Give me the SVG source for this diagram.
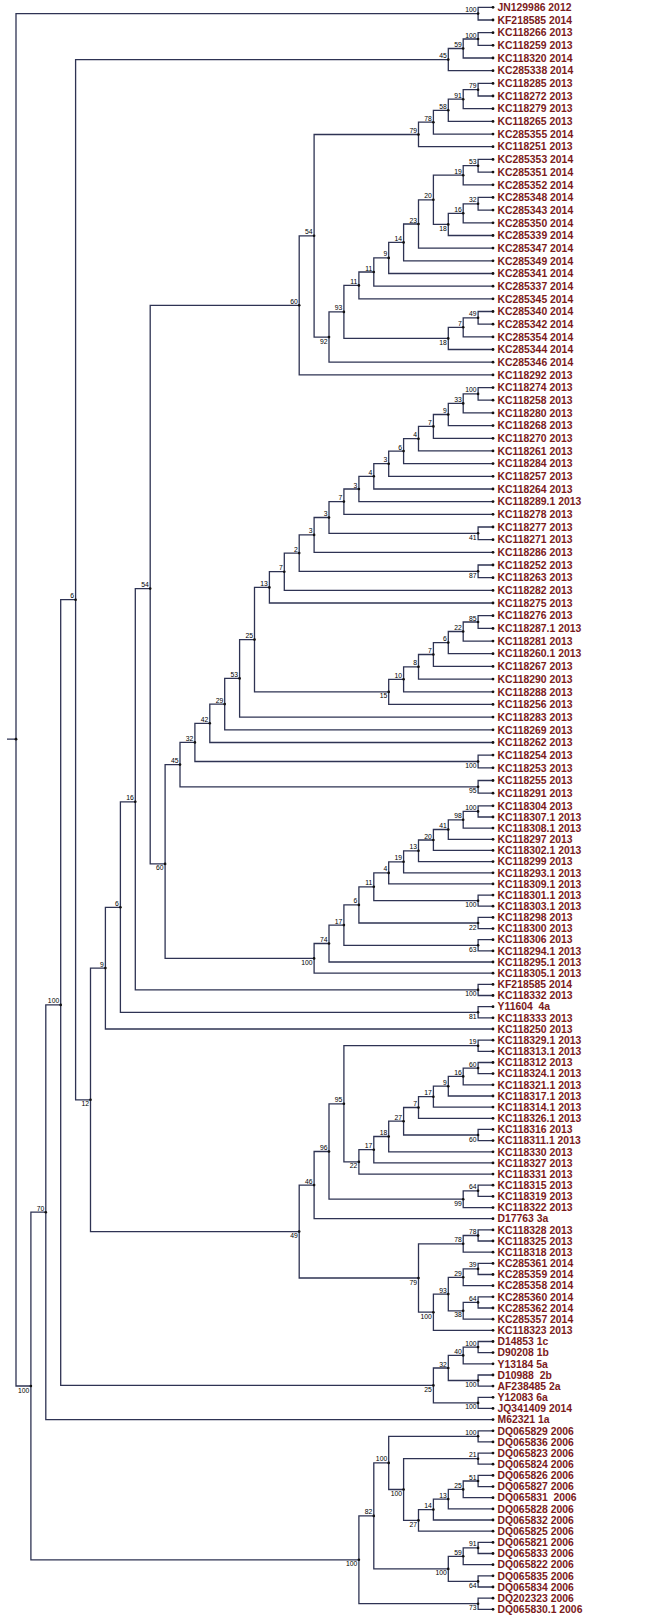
<svg xmlns="http://www.w3.org/2000/svg" width="646" height="1619" viewBox="0 0 646 1619">
<style>
.c path{fill:none;stroke:#2e3353;stroke-width:1.3}
circle{fill:#111}
.lf text{font-family:"Liberation Sans",Arial,sans-serif;font-weight:bold;font-size:10.4px;fill:#7b1a1a;white-space:pre}
.nd text{font-family:"Liberation Sans",Arial,sans-serif;font-size:6.8px;fill:#000;text-anchor:end}
</style>
<rect width="646" height="1619" fill="#fff"/>
<g id="connectors" class="c">
<path d="M478.1 13.6H16V1386H30.9M7 739.2H16"/>
<path d="M493 7.3H478.1V20H493"/>
<path d="M493 32.7H478.1V45.3H493"/>
<path d="M478.1 39H463.2V58H493"/>
<path d="M463.2 48.5H448.3V70.7H493"/>
<path d="M493 83.4H478.1V96H493"/>
<path d="M478.1 89.7H463.2V108.7H493"/>
<path d="M463.2 99.2H448.3V121.4H493"/>
<path d="M448.3 110.3H433.4V134.1H493"/>
<path d="M433.4 122.2H418.5V146.7H493"/>
<path d="M493 159.4H478.1V172.1H493"/>
<path d="M478.1 165.7H463.2V184.8H493"/>
<path d="M493 197.4H478.1V210.1H493"/>
<path d="M478.1 203.8H463.2V222.8H493"/>
<path d="M463.2 213.3H448.3V235.5H493"/>
<path d="M463.2 175.2H433.4V224.4H448.3"/>
<path d="M433.4 199.8H418.5V248.1H493"/>
<path d="M418.5 224H403.6V260.8H493"/>
<path d="M403.6 242.4H388.7V273.5H493"/>
<path d="M388.7 257.9H373.8V286.2H493"/>
<path d="M373.8 272H358.9V298.8H493"/>
<path d="M493 311.5H478.1V324.2H493"/>
<path d="M478.1 317.8H463.2V336.9H493"/>
<path d="M463.2 327.3H448.3V349.5H493"/>
<path d="M358.9 285.4H343.9V338.4H448.3"/>
<path d="M343.9 311.9H329V362.2H493"/>
<path d="M418.5 134.5H314.1V337.1H329"/>
<path d="M314.1 235.8H299.2V374.9H493"/>
<path d="M493 387.6H478.1V400.2H493"/>
<path d="M478.1 393.9H463.2V412.9H493"/>
<path d="M463.2 403.4H448.3V425.6H493"/>
<path d="M448.3 414.5H433.4V438.3H493"/>
<path d="M433.4 426.4H418.5V450.9H493"/>
<path d="M418.5 438.7H403.6V463.6H493"/>
<path d="M403.6 451.1H388.7V476.3H493"/>
<path d="M388.7 463.7H373.8V489H493"/>
<path d="M373.8 476.3H358.9V501.6H493"/>
<path d="M358.9 489H343.9V514.3H493"/>
<path d="M493 527H478.1V539.7H493"/>
<path d="M343.9 501.6H329V533.3H478.1"/>
<path d="M329 517.5H314.1V552.3H493"/>
<path d="M493 565H478.1V577.7H493"/>
<path d="M314.1 534.9H299.2V571.3H478.1"/>
<path d="M299.2 553.1H284.3V590.4H493"/>
<path d="M284.3 571.7H269.4V603H493"/>
<path d="M493 615.7H478.1V628.4H493"/>
<path d="M478.1 622H463.2V641.1H493"/>
<path d="M463.2 631.5H448.3V653.7H493"/>
<path d="M448.3 642.6H433.4V666.4H493"/>
<path d="M433.4 654.5H418.5V679.1H493"/>
<path d="M418.5 666.8H403.6V691.8H493"/>
<path d="M403.6 679.3H388.7V704.4H493"/>
<path d="M269.4 587.4H254.5V691.9H388.7"/>
<path d="M254.5 639.6H239.6V717.1H493"/>
<path d="M239.6 678.4H224.7V729.8H493"/>
<path d="M224.7 704.1H209.8V742.5H493"/>
<path d="M493 755.1H478.1V767.8H493"/>
<path d="M209.8 723.3H194.9V761.5H478.1"/>
<path d="M493 780.5H478.1V793.2H493"/>
<path d="M194.9 742.4H180V786.8H478.1"/>
<path d="M493 805.8H478.1V817H493"/>
<path d="M478.1 811.4H463.2V828.1H493"/>
<path d="M463.2 819.8H448.3V839.3H493"/>
<path d="M448.3 829.5H433.4V850.4H493"/>
<path d="M433.4 840H418.5V861.6H493"/>
<path d="M418.5 850.8H403.6V872.8H493"/>
<path d="M403.6 861.8H388.7V883.9H493"/>
<path d="M493 895.1H478.1V906.2H493"/>
<path d="M388.7 872.9H373.8V900.7H478.1"/>
<path d="M493 917.4H478.1V928.6H493"/>
<path d="M373.8 886.8H358.9V923H478.1"/>
<path d="M493 939.7H478.1V950.9H493"/>
<path d="M358.9 904.9H343.9V945.3H478.1"/>
<path d="M343.9 925.1H329V962H493"/>
<path d="M329 943.5H314.1V973.2H493"/>
<path d="M180 764.6H165.1V958.4H314.1"/>
<path d="M299.2 305.3H150.2V863.9H165.1"/>
<path d="M493 984.4H478.1V995.5H493"/>
<path d="M150.2 588.6H135.3V989.9H478.1"/>
<path d="M493 1006.7H478.1V1017.8H493"/>
<path d="M135.3 801.8H120.4V1012.3H478.1"/>
<path d="M120.4 907.3H105.4V1029H493"/>
<path d="M493 1040.2H478.1V1051.3H493"/>
<path d="M493 1062.5H478.1V1073.6H493"/>
<path d="M478.1 1068.1H463.2V1084.8H493"/>
<path d="M463.2 1076.4H448.3V1096H493"/>
<path d="M448.3 1086.2H433.4V1107.1H493"/>
<path d="M433.4 1096.7H418.5V1118.3H493"/>
<path d="M493 1129.4H478.1V1140.6H493"/>
<path d="M418.5 1107.5H403.6V1135H478.1"/>
<path d="M403.6 1121.2H388.7V1151.8H493"/>
<path d="M388.7 1136.5H373.8V1162.9H493"/>
<path d="M373.8 1149.7H358.9V1174.1H493"/>
<path d="M478.1 1045.7H343.9V1161.9H358.9"/>
<path d="M493 1185.2H478.1V1196.4H493"/>
<path d="M478.1 1190.8H463.2V1207.6H493"/>
<path d="M343.9 1103.8H329V1199.2H463.2"/>
<path d="M329 1151.5H314.1V1218.7H493"/>
<path d="M493 1229.9H478.1V1241H493"/>
<path d="M478.1 1235.5H463.2V1252.2H493"/>
<path d="M493 1263.4H478.1V1274.5H493"/>
<path d="M478.1 1268.9H463.2V1285.7H493"/>
<path d="M493 1296.8H478.1V1308H493"/>
<path d="M478.1 1302.4H463.2V1319.2H493"/>
<path d="M463.2 1277.3H448.3V1310.8H463.2"/>
<path d="M448.3 1294.1H433.4V1330.3H493"/>
<path d="M463.2 1243.8H418.5V1312.2H433.4"/>
<path d="M314.1 1185.1H299.2V1278H418.5"/>
<path d="M105.4 968.1H90.5V1231.6H299.2"/>
<path d="M448.3 59.6H75.6V1099.8H90.5"/>
<path d="M493 1341.5H478.1V1352.6H493"/>
<path d="M478.1 1347.1H463.2V1363.8H493"/>
<path d="M493 1375H478.1V1386.1H493"/>
<path d="M463.2 1355.4H448.3V1380.5H478.1"/>
<path d="M493 1397.3H478.1V1408.4H493"/>
<path d="M448.3 1368H433.4V1402.9H478.1"/>
<path d="M75.6 599.7H60.7V1385.4H433.4"/>
<path d="M60.7 1004.9H45.8V1419.6H493"/>
<path d="M493 1430.8H478.1V1441.9H493"/>
<path d="M493 1453.1H478.1V1464.2H493"/>
<path d="M493 1475.4H478.1V1486.6H493"/>
<path d="M478.1 1481H463.2V1497.7H493"/>
<path d="M463.2 1489.4H448.3V1508.9H493"/>
<path d="M448.3 1499.1H433.4V1520H493"/>
<path d="M433.4 1509.6H418.5V1531.2H493"/>
<path d="M478.1 1458.7H403.6V1520.4H418.5"/>
<path d="M478.1 1436.3H388.7V1489.5H403.6"/>
<path d="M493 1542.4H478.1V1553.5H493"/>
<path d="M478.1 1547.9H463.2V1564.7H493"/>
<path d="M493 1575.8H478.1V1587H493"/>
<path d="M463.2 1556.3H448.3V1581.4H478.1"/>
<path d="M388.7 1462.9H373.8V1568.9H448.3"/>
<path d="M493 1598.2H478.1V1609.3H493"/>
<path d="M373.8 1515.9H358.9V1603.7H478.1"/>
<path d="M45.8 1212.2H30.9V1559.8H358.9"/>
</g>
<g id="internal-nodes" class="nd">
<g id="n-root" transform="translate(16,739.2)"><circle r="1.4"/></g>
<g id="n-A" transform="translate(478.1,13.6)"><circle r="1.3"/><text x="-1.5" y="-1.5">100</text></g>
<g id="n-P100a" transform="translate(478.1,39)"><circle r="1.3"/><text x="-1.5" y="-1.5">100</text></g>
<g id="n-P59" transform="translate(463.2,48.5)"><circle r="1.3"/><text x="-1.5" y="-1.5">59</text></g>
<g id="n-P45" transform="translate(448.3,59.6)"><circle r="1.3"/><text x="-1.5" y="-1.5">45</text></g>
<g id="n-Q79a" transform="translate(478.1,89.7)"><circle r="1.3"/><text x="-1.5" y="-1.5">79</text></g>
<g id="n-Q91" transform="translate(463.2,99.2)"><circle r="1.3"/><text x="-1.5" y="-1.5">91</text></g>
<g id="n-Q58" transform="translate(448.3,110.3)"><circle r="1.3"/><text x="-1.5" y="-1.5">58</text></g>
<g id="n-Q78" transform="translate(433.4,122.2)"><circle r="1.3"/><text x="-1.5" y="-1.5">78</text></g>
<g id="n-Q79b" transform="translate(418.5,134.5)"><circle r="1.3"/><text x="-1.5" y="-1.5">79</text></g>
<g id="n-R53" transform="translate(478.1,165.7)"><circle r="1.3"/><text x="-1.5" y="-1.5">53</text></g>
<g id="n-R19" transform="translate(463.2,175.2)"><circle r="1.3"/><text x="-1.5" y="-1.5">19</text></g>
<g id="n-R32" transform="translate(478.1,203.8)"><circle r="1.3"/><text x="-1.5" y="-1.5">32</text></g>
<g id="n-R16" transform="translate(463.2,213.3)"><circle r="1.3"/><text x="-1.5" y="-1.5">16</text></g>
<g id="n-R18" transform="translate(448.3,224.4)"><circle r="1.3"/><text x="-1.5" y="6.5">18</text></g>
<g id="n-R20" transform="translate(433.4,199.8)"><circle r="1.3"/><text x="-1.5" y="-1.5">20</text></g>
<g id="n-R23" transform="translate(418.5,224)"><circle r="1.3"/><text x="-1.5" y="-1.5">23</text></g>
<g id="n-R14" transform="translate(403.6,242.4)"><circle r="1.3"/><text x="-1.5" y="-1.5">14</text></g>
<g id="n-R9" transform="translate(388.7,257.9)"><circle r="1.3"/><text x="-1.5" y="-1.5">9</text></g>
<g id="n-R11u" transform="translate(373.8,272)"><circle r="1.3"/><text x="-1.5" y="-1.5">11</text></g>
<g id="n-R11" transform="translate(358.9,285.4)"><circle r="1.3"/><text x="-1.5" y="-1.5">11</text></g>
<g id="n-R49" transform="translate(478.1,317.8)"><circle r="1.3"/><text x="-1.5" y="-1.5">49</text></g>
<g id="n-R7" transform="translate(463.2,327.3)"><circle r="1.3"/><text x="-1.5" y="-1.5">7</text></g>
<g id="n-R18b" transform="translate(448.3,338.4)"><circle r="1.3"/><text x="-1.5" y="6.5">18</text></g>
<g id="n-R93" transform="translate(343.9,311.9)"><circle r="1.3"/><text x="-1.5" y="-1.5">93</text></g>
<g id="n-R92" transform="translate(329,337.1)"><circle r="1.3"/><text x="-1.5" y="6.5">92</text></g>
<g id="n-S54" transform="translate(314.1,235.8)"><circle r="1.3"/><text x="-1.5" y="-1.5">54</text></g>
<g id="n-S60" transform="translate(299.2,305.3)"><circle r="1.3"/><text x="-1.5" y="-1.5">60</text></g>
<g id="n-T100" transform="translate(478.1,393.9)"><circle r="1.3"/><text x="-1.5" y="-1.5">100</text></g>
<g id="n-T33" transform="translate(463.2,403.4)"><circle r="1.3"/><text x="-1.5" y="-1.5">33</text></g>
<g id="n-T9" transform="translate(448.3,414.5)"><circle r="1.3"/><text x="-1.5" y="-1.5">9</text></g>
<g id="n-T7" transform="translate(433.4,426.4)"><circle r="1.3"/><text x="-1.5" y="-1.5">7</text></g>
<g id="n-T4" transform="translate(418.5,438.7)"><circle r="1.3"/><text x="-1.5" y="-1.5">4</text></g>
<g id="n-T6" transform="translate(403.6,451.1)"><circle r="1.3"/><text x="-1.5" y="-1.5">6</text></g>
<g id="n-T3a" transform="translate(388.7,463.7)"><circle r="1.3"/><text x="-1.5" y="-1.5">3</text></g>
<g id="n-T4b" transform="translate(373.8,476.3)"><circle r="1.3"/><text x="-1.5" y="-1.5">4</text></g>
<g id="n-T3b" transform="translate(358.9,489)"><circle r="1.3"/><text x="-1.5" y="-1.5">3</text></g>
<g id="n-T7b" transform="translate(343.9,501.6)"><circle r="1.3"/><text x="-1.5" y="-1.5">7</text></g>
<g id="n-T41" transform="translate(478.1,533.3)"><circle r="1.3"/><text x="-1.5" y="6.5">41</text></g>
<g id="n-T3c" transform="translate(329,517.5)"><circle r="1.3"/><text x="-1.5" y="-1.5">3</text></g>
<g id="n-T3d" transform="translate(314.1,534.9)"><circle r="1.3"/><text x="-1.5" y="-1.5">3</text></g>
<g id="n-T87" transform="translate(478.1,571.3)"><circle r="1.3"/><text x="-1.5" y="6.5">87</text></g>
<g id="n-T2" transform="translate(299.2,553.1)"><circle r="1.3"/><text x="-1.5" y="-1.5">2</text></g>
<g id="n-T7e" transform="translate(284.3,571.7)"><circle r="1.3"/><text x="-1.5" y="-1.5">7</text></g>
<g id="n-T13" transform="translate(269.4,587.4)"><circle r="1.3"/><text x="-1.5" y="-1.5">13</text></g>
<g id="n-U85" transform="translate(478.1,622)"><circle r="1.3"/><text x="-1.5" y="-1.5">85</text></g>
<g id="n-U22" transform="translate(463.2,631.5)"><circle r="1.3"/><text x="-1.5" y="-1.5">22</text></g>
<g id="n-U6" transform="translate(448.3,642.6)"><circle r="1.3"/><text x="-1.5" y="-1.5">6</text></g>
<g id="n-U7" transform="translate(433.4,654.5)"><circle r="1.3"/><text x="-1.5" y="-1.5">7</text></g>
<g id="n-U8" transform="translate(418.5,666.8)"><circle r="1.3"/><text x="-1.5" y="-1.5">8</text></g>
<g id="n-U10" transform="translate(403.6,679.3)"><circle r="1.3"/><text x="-1.5" y="-1.5">10</text></g>
<g id="n-U15" transform="translate(388.7,691.9)"><circle r="1.3"/><text x="-1.5" y="6.5">15</text></g>
<g id="n-T25" transform="translate(254.5,639.6)"><circle r="1.3"/><text x="-1.5" y="-1.5">25</text></g>
<g id="n-T53" transform="translate(239.6,678.4)"><circle r="1.3"/><text x="-1.5" y="-1.5">53</text></g>
<g id="n-T29" transform="translate(224.7,704.1)"><circle r="1.3"/><text x="-1.5" y="-1.5">29</text></g>
<g id="n-T42" transform="translate(209.8,723.3)"><circle r="1.3"/><text x="-1.5" y="-1.5">42</text></g>
<g id="n-V100" transform="translate(478.1,761.5)"><circle r="1.3"/><text x="-1.5" y="6.5">100</text></g>
<g id="n-T32" transform="translate(194.9,742.4)"><circle r="1.3"/><text x="-1.5" y="-1.5">32</text></g>
<g id="n-V95" transform="translate(478.1,786.8)"><circle r="1.3"/><text x="-1.5" y="6.5">95</text></g>
<g id="n-T45" transform="translate(180,764.6)"><circle r="1.3"/><text x="-1.5" y="-1.5">45</text></g>
<g id="n-W100" transform="translate(478.1,811.4)"><circle r="1.3"/><text x="-1.5" y="-1.5">100</text></g>
<g id="n-W98" transform="translate(463.2,819.8)"><circle r="1.3"/><text x="-1.5" y="-1.5">98</text></g>
<g id="n-W41" transform="translate(448.3,829.5)"><circle r="1.3"/><text x="-1.5" y="-1.5">41</text></g>
<g id="n-W20" transform="translate(433.4,840)"><circle r="1.3"/><text x="-1.5" y="-1.5">20</text></g>
<g id="n-W13" transform="translate(418.5,850.8)"><circle r="1.3"/><text x="-1.5" y="-1.5">13</text></g>
<g id="n-W19" transform="translate(403.6,861.8)"><circle r="1.3"/><text x="-1.5" y="-1.5">19</text></g>
<g id="n-W4" transform="translate(388.7,872.9)"><circle r="1.3"/><text x="-1.5" y="-1.5">4</text></g>
<g id="n-W100e" transform="translate(478.1,900.7)"><circle r="1.3"/><text x="-1.5" y="6.5">100</text></g>
<g id="n-W11" transform="translate(373.8,886.8)"><circle r="1.3"/><text x="-1.5" y="-1.5">11</text></g>
<g id="n-W22" transform="translate(478.1,923)"><circle r="1.3"/><text x="-1.5" y="6.5">22</text></g>
<g id="n-W6" transform="translate(358.9,904.9)"><circle r="1.3"/><text x="-1.5" y="-1.5">6</text></g>
<g id="n-W63" transform="translate(478.1,945.3)"><circle r="1.3"/><text x="-1.5" y="6.5">63</text></g>
<g id="n-W17" transform="translate(343.9,925.1)"><circle r="1.3"/><text x="-1.5" y="-1.5">17</text></g>
<g id="n-W74" transform="translate(329,943.5)"><circle r="1.3"/><text x="-1.5" y="-1.5">74</text></g>
<g id="n-W100f" transform="translate(314.1,958.4)"><circle r="1.3"/><text x="-1.5" y="6.5">100</text></g>
<g id="n-X60" transform="translate(165.1,863.9)"><circle r="1.3"/><text x="-1.5" y="6.5">60</text></g>
<g id="n-X54" transform="translate(150.2,588.6)"><circle r="1.3"/><text x="-1.5" y="-1.5">54</text></g>
<g id="n-X100b" transform="translate(478.1,989.9)"><circle r="1.3"/><text x="-1.5" y="6.5">100</text></g>
<g id="n-X16" transform="translate(135.3,801.8)"><circle r="1.3"/><text x="-1.5" y="-1.5">16</text></g>
<g id="n-X81" transform="translate(478.1,1012.3)"><circle r="1.3"/><text x="-1.5" y="6.5">81</text></g>
<g id="n-X6" transform="translate(120.4,907.3)"><circle r="1.3"/><text x="-1.5" y="-1.5">6</text></g>
<g id="n-X9" transform="translate(105.4,968.1)"><circle r="1.3"/><text x="-1.5" y="-1.5">9</text></g>
<g id="n-Y19" transform="translate(478.1,1045.7)"><circle r="1.3"/><text x="-1.5" y="-1.5">19</text></g>
<g id="n-Y60" transform="translate(478.1,1068.1)"><circle r="1.3"/><text x="-1.5" y="-1.5">60</text></g>
<g id="n-Y16" transform="translate(463.2,1076.4)"><circle r="1.3"/><text x="-1.5" y="-1.5">16</text></g>
<g id="n-Y9" transform="translate(448.3,1086.2)"><circle r="1.3"/><text x="-1.5" y="-1.5">9</text></g>
<g id="n-Y17" transform="translate(433.4,1096.7)"><circle r="1.3"/><text x="-1.5" y="-1.5">17</text></g>
<g id="n-Y7" transform="translate(418.5,1107.5)"><circle r="1.3"/><text x="-1.5" y="-1.5">7</text></g>
<g id="n-Y60c" transform="translate(478.1,1135)"><circle r="1.3"/><text x="-1.5" y="6.5">60</text></g>
<g id="n-Y27" transform="translate(403.6,1121.2)"><circle r="1.3"/><text x="-1.5" y="-1.5">27</text></g>
<g id="n-Y18" transform="translate(388.7,1136.5)"><circle r="1.3"/><text x="-1.5" y="-1.5">18</text></g>
<g id="n-Y17d" transform="translate(373.8,1149.7)"><circle r="1.3"/><text x="-1.5" y="-1.5">17</text></g>
<g id="n-Y22" transform="translate(358.9,1161.9)"><circle r="1.3"/><text x="-1.5" y="6.5">22</text></g>
<g id="n-Y95" transform="translate(343.9,1103.8)"><circle r="1.3"/><text x="-1.5" y="-1.5">95</text></g>
<g id="n-Y64" transform="translate(478.1,1190.8)"><circle r="1.3"/><text x="-1.5" y="-1.5">64</text></g>
<g id="n-Y99" transform="translate(463.2,1199.2)"><circle r="1.3"/><text x="-1.5" y="6.5">99</text></g>
<g id="n-Y96" transform="translate(329,1151.5)"><circle r="1.3"/><text x="-1.5" y="-1.5">96</text></g>
<g id="n-Y46" transform="translate(314.1,1185.1)"><circle r="1.3"/><text x="-1.5" y="-1.5">46</text></g>
<g id="n-Z78a" transform="translate(478.1,1235.5)"><circle r="1.3"/><text x="-1.5" y="-1.5">78</text></g>
<g id="n-Z78b" transform="translate(463.2,1243.8)"><circle r="1.3"/><text x="-1.5" y="-1.5">78</text></g>
<g id="n-Z39" transform="translate(478.1,1268.9)"><circle r="1.3"/><text x="-1.5" y="-1.5">39</text></g>
<g id="n-Z29" transform="translate(463.2,1277.3)"><circle r="1.3"/><text x="-1.5" y="-1.5">29</text></g>
<g id="n-Z64" transform="translate(478.1,1302.4)"><circle r="1.3"/><text x="-1.5" y="-1.5">64</text></g>
<g id="n-Z38" transform="translate(463.2,1310.8)"><circle r="1.3"/><text x="-1.5" y="6.5">38</text></g>
<g id="n-Z93" transform="translate(448.3,1294.1)"><circle r="1.3"/><text x="-1.5" y="-1.5">93</text></g>
<g id="n-Z100" transform="translate(433.4,1312.2)"><circle r="1.3"/><text x="-1.5" y="6.5">100</text></g>
<g id="n-Z79" transform="translate(418.5,1278)"><circle r="1.3"/><text x="-1.5" y="6.5">79</text></g>
<g id="n-Y49" transform="translate(299.2,1231.6)"><circle r="1.3"/><text x="-1.5" y="6.5">49</text></g>
<g id="n-X12" transform="translate(90.5,1099.8)"><circle r="1.3"/><text x="-1.5" y="6.5">12</text></g>
<g id="n-P6" transform="translate(75.6,599.7)"><circle r="1.3"/><text x="-1.5" y="-1.5">6</text></g>
<g id="n-G100a" transform="translate(478.1,1347.1)"><circle r="1.3"/><text x="-1.5" y="-1.5">100</text></g>
<g id="n-G40" transform="translate(463.2,1355.4)"><circle r="1.3"/><text x="-1.5" y="-1.5">40</text></g>
<g id="n-G100b" transform="translate(478.1,1380.5)"><circle r="1.3"/><text x="-1.5" y="6.5">100</text></g>
<g id="n-G32" transform="translate(448.3,1368)"><circle r="1.3"/><text x="-1.5" y="-1.5">32</text></g>
<g id="n-G100c" transform="translate(478.1,1402.9)"><circle r="1.3"/><text x="-1.5" y="6.5">100</text></g>
<g id="n-G25" transform="translate(433.4,1385.4)"><circle r="1.3"/><text x="-1.5" y="6.5">25</text></g>
<g id="n-K100" transform="translate(60.7,1004.9)"><circle r="1.3"/><text x="-1.5" y="-1.5">100</text></g>
<g id="n-K70" transform="translate(45.8,1212.2)"><circle r="1.3"/><text x="-1.5" y="-1.5">70</text></g>
<g id="n-D100a" transform="translate(478.1,1436.3)"><circle r="1.3"/><text x="-1.5" y="-1.5">100</text></g>
<g id="n-D21" transform="translate(478.1,1458.7)"><circle r="1.3"/><text x="-1.5" y="-1.5">21</text></g>
<g id="n-D51" transform="translate(478.1,1481)"><circle r="1.3"/><text x="-1.5" y="-1.5">51</text></g>
<g id="n-D25" transform="translate(463.2,1489.4)"><circle r="1.3"/><text x="-1.5" y="-1.5">25</text></g>
<g id="n-D13" transform="translate(448.3,1499.1)"><circle r="1.3"/><text x="-1.5" y="-1.5">13</text></g>
<g id="n-D14" transform="translate(433.4,1509.6)"><circle r="1.3"/><text x="-1.5" y="-1.5">14</text></g>
<g id="n-D27" transform="translate(418.5,1520.4)"><circle r="1.3"/><text x="-1.5" y="6.5">27</text></g>
<g id="n-D100m" transform="translate(403.6,1489.5)"><circle r="1.3"/><text x="-1.5" y="6.5">100</text></g>
<g id="n-D100n" transform="translate(388.7,1462.9)"><circle r="1.3"/><text x="-1.5" y="-1.5">100</text></g>
<g id="n-D91" transform="translate(478.1,1547.9)"><circle r="1.3"/><text x="-1.5" y="-1.5">91</text></g>
<g id="n-D59" transform="translate(463.2,1556.3)"><circle r="1.3"/><text x="-1.5" y="-1.5">59</text></g>
<g id="n-D64" transform="translate(478.1,1581.4)"><circle r="1.3"/><text x="-1.5" y="6.5">64</text></g>
<g id="n-D100o" transform="translate(448.3,1568.9)"><circle r="1.3"/><text x="-1.5" y="6.5">100</text></g>
<g id="n-D82" transform="translate(373.8,1515.9)"><circle r="1.3"/><text x="-1.5" y="-1.5">82</text></g>
<g id="n-D73" transform="translate(478.1,1603.7)"><circle r="1.3"/><text x="-1.5" y="6.5">73</text></g>
<g id="n-D100" transform="translate(358.9,1559.8)"><circle r="1.3"/><text x="-1.5" y="6.5">100</text></g>
<g id="n-B80" transform="translate(30.9,1386)"><circle r="1.3"/><text x="-1.5" y="6.5">100</text></g>
</g>
<g id="leaves" class="lf">
<g id="leaf001" transform="translate(493,7.3)"><circle r="1.4"/><text x="4.5" y="3.7">JN129986 2012</text></g>
<g id="leaf002" transform="translate(493,20)"><circle r="1.4"/><text x="4.5" y="3.7">KF218585 2014</text></g>
<g id="leaf003" transform="translate(493,32.7)"><circle r="1.4"/><text x="4.5" y="3.7">KC118266 2013</text></g>
<g id="leaf004" transform="translate(493,45.3)"><circle r="1.4"/><text x="4.5" y="3.7">KC118259 2013</text></g>
<g id="leaf005" transform="translate(493,58)"><circle r="1.4"/><text x="4.5" y="3.7">KC118320 2014</text></g>
<g id="leaf006" transform="translate(493,70.7)"><circle r="1.4"/><text x="4.5" y="3.7">KC285338 2014</text></g>
<g id="leaf007" transform="translate(493,83.4)"><circle r="1.4"/><text x="4.5" y="3.7">KC118285 2013</text></g>
<g id="leaf008" transform="translate(493,96)"><circle r="1.4"/><text x="4.5" y="3.7">KC118272 2013</text></g>
<g id="leaf009" transform="translate(493,108.7)"><circle r="1.4"/><text x="4.5" y="3.7">KC118279 2013</text></g>
<g id="leaf010" transform="translate(493,121.4)"><circle r="1.4"/><text x="4.5" y="3.7">KC118265 2013</text></g>
<g id="leaf011" transform="translate(493,134.1)"><circle r="1.4"/><text x="4.5" y="3.7">KC285355 2014</text></g>
<g id="leaf012" transform="translate(493,146.7)"><circle r="1.4"/><text x="4.5" y="3.7">KC118251 2013</text></g>
<g id="leaf013" transform="translate(493,159.4)"><circle r="1.4"/><text x="4.5" y="3.7">KC285353 2014</text></g>
<g id="leaf014" transform="translate(493,172.1)"><circle r="1.4"/><text x="4.5" y="3.7">KC285351 2014</text></g>
<g id="leaf015" transform="translate(493,184.8)"><circle r="1.4"/><text x="4.5" y="3.7">KC285352 2014</text></g>
<g id="leaf016" transform="translate(493,197.4)"><circle r="1.4"/><text x="4.5" y="3.7">KC285348 2014</text></g>
<g id="leaf017" transform="translate(493,210.1)"><circle r="1.4"/><text x="4.5" y="3.7">KC285343 2014</text></g>
<g id="leaf018" transform="translate(493,222.8)"><circle r="1.4"/><text x="4.5" y="3.7">KC285350 2014</text></g>
<g id="leaf019" transform="translate(493,235.5)"><circle r="1.4"/><text x="4.5" y="3.7">KC285339 2014</text></g>
<g id="leaf020" transform="translate(493,248.1)"><circle r="1.4"/><text x="4.5" y="3.7">KC285347 2014</text></g>
<g id="leaf021" transform="translate(493,260.8)"><circle r="1.4"/><text x="4.5" y="3.7">KC285349 2014</text></g>
<g id="leaf022" transform="translate(493,273.5)"><circle r="1.4"/><text x="4.5" y="3.7">KC285341 2014</text></g>
<g id="leaf023" transform="translate(493,286.2)"><circle r="1.4"/><text x="4.5" y="3.7">KC285337 2014</text></g>
<g id="leaf024" transform="translate(493,298.8)"><circle r="1.4"/><text x="4.5" y="3.7">KC285345 2014</text></g>
<g id="leaf025" transform="translate(493,311.5)"><circle r="1.4"/><text x="4.5" y="3.7">KC285340 2014</text></g>
<g id="leaf026" transform="translate(493,324.2)"><circle r="1.4"/><text x="4.5" y="3.7">KC285342 2014</text></g>
<g id="leaf027" transform="translate(493,336.9)"><circle r="1.4"/><text x="4.5" y="3.7">KC285354 2014</text></g>
<g id="leaf028" transform="translate(493,349.5)"><circle r="1.4"/><text x="4.5" y="3.7">KC285344 2014</text></g>
<g id="leaf029" transform="translate(493,362.2)"><circle r="1.4"/><text x="4.5" y="3.7">KC285346 2014</text></g>
<g id="leaf030" transform="translate(493,374.9)"><circle r="1.4"/><text x="4.5" y="3.7">KC118292 2013</text></g>
<g id="leaf031" transform="translate(493,387.6)"><circle r="1.4"/><text x="4.5" y="3.7">KC118274 2013</text></g>
<g id="leaf032" transform="translate(493,400.2)"><circle r="1.4"/><text x="4.5" y="3.7">KC118258 2013</text></g>
<g id="leaf033" transform="translate(493,412.9)"><circle r="1.4"/><text x="4.5" y="3.7">KC118280 2013</text></g>
<g id="leaf034" transform="translate(493,425.6)"><circle r="1.4"/><text x="4.5" y="3.7">KC118268 2013</text></g>
<g id="leaf035" transform="translate(493,438.3)"><circle r="1.4"/><text x="4.5" y="3.7">KC118270 2013</text></g>
<g id="leaf036" transform="translate(493,450.9)"><circle r="1.4"/><text x="4.5" y="3.7">KC118261 2013</text></g>
<g id="leaf037" transform="translate(493,463.6)"><circle r="1.4"/><text x="4.5" y="3.7">KC118284 2013</text></g>
<g id="leaf038" transform="translate(493,476.3)"><circle r="1.4"/><text x="4.5" y="3.7">KC118257 2013</text></g>
<g id="leaf039" transform="translate(493,489)"><circle r="1.4"/><text x="4.5" y="3.7">KC118264 2013</text></g>
<g id="leaf040" transform="translate(493,501.6)"><circle r="1.4"/><text x="4.5" y="3.7">KC118289.1 2013</text></g>
<g id="leaf041" transform="translate(493,514.3)"><circle r="1.4"/><text x="4.5" y="3.7">KC118278 2013</text></g>
<g id="leaf042" transform="translate(493,527)"><circle r="1.4"/><text x="4.5" y="3.7">KC118277 2013</text></g>
<g id="leaf043" transform="translate(493,539.7)"><circle r="1.4"/><text x="4.5" y="3.7">KC118271 2013</text></g>
<g id="leaf044" transform="translate(493,552.3)"><circle r="1.4"/><text x="4.5" y="3.7">KC118286 2013</text></g>
<g id="leaf045" transform="translate(493,565)"><circle r="1.4"/><text x="4.5" y="3.7">KC118252 2013</text></g>
<g id="leaf046" transform="translate(493,577.7)"><circle r="1.4"/><text x="4.5" y="3.7">KC118263 2013</text></g>
<g id="leaf047" transform="translate(493,590.4)"><circle r="1.4"/><text x="4.5" y="3.7">KC118282 2013</text></g>
<g id="leaf048" transform="translate(493,603)"><circle r="1.4"/><text x="4.5" y="3.7">KC118275 2013</text></g>
<g id="leaf049" transform="translate(493,615.7)"><circle r="1.4"/><text x="4.5" y="3.7">KC118276 2013</text></g>
<g id="leaf050" transform="translate(493,628.4)"><circle r="1.4"/><text x="4.5" y="3.7">KC118287.1 2013</text></g>
<g id="leaf051" transform="translate(493,641.1)"><circle r="1.4"/><text x="4.5" y="3.7">KC118281 2013</text></g>
<g id="leaf052" transform="translate(493,653.7)"><circle r="1.4"/><text x="4.5" y="3.7">KC118260.1 2013</text></g>
<g id="leaf053" transform="translate(493,666.4)"><circle r="1.4"/><text x="4.5" y="3.7">KC118267 2013</text></g>
<g id="leaf054" transform="translate(493,679.1)"><circle r="1.4"/><text x="4.5" y="3.7">KC118290 2013</text></g>
<g id="leaf055" transform="translate(493,691.8)"><circle r="1.4"/><text x="4.5" y="3.7">KC118288 2013</text></g>
<g id="leaf056" transform="translate(493,704.4)"><circle r="1.4"/><text x="4.5" y="3.7">KC118256 2013</text></g>
<g id="leaf057" transform="translate(493,717.1)"><circle r="1.4"/><text x="4.5" y="3.7">KC118283 2013</text></g>
<g id="leaf058" transform="translate(493,729.8)"><circle r="1.4"/><text x="4.5" y="3.7">KC118269 2013</text></g>
<g id="leaf059" transform="translate(493,742.5)"><circle r="1.4"/><text x="4.5" y="3.7">KC118262 2013</text></g>
<g id="leaf060" transform="translate(493,755.1)"><circle r="1.4"/><text x="4.5" y="3.7">KC118254 2013</text></g>
<g id="leaf061" transform="translate(493,767.8)"><circle r="1.4"/><text x="4.5" y="3.7">KC118253 2013</text></g>
<g id="leaf062" transform="translate(493,780.5)"><circle r="1.4"/><text x="4.5" y="3.7">KC118255 2013</text></g>
<g id="leaf063" transform="translate(493,793.2)"><circle r="1.4"/><text x="4.5" y="3.7">KC118291 2013</text></g>
<g id="leaf064" transform="translate(493,805.8)"><circle r="1.4"/><text x="4.5" y="3.7">KC118304 2013</text></g>
<g id="leaf065" transform="translate(493,817)"><circle r="1.4"/><text x="4.5" y="3.7">KC118307.1 2013</text></g>
<g id="leaf066" transform="translate(493,828.1)"><circle r="1.4"/><text x="4.5" y="3.7">KC118308.1 2013</text></g>
<g id="leaf067" transform="translate(493,839.3)"><circle r="1.4"/><text x="4.5" y="3.7">KC118297 2013</text></g>
<g id="leaf068" transform="translate(493,850.4)"><circle r="1.4"/><text x="4.5" y="3.7">KC118302.1 2013</text></g>
<g id="leaf069" transform="translate(493,861.6)"><circle r="1.4"/><text x="4.5" y="3.7">KC118299 2013</text></g>
<g id="leaf070" transform="translate(493,872.8)"><circle r="1.4"/><text x="4.5" y="3.7">KC118293.1 2013</text></g>
<g id="leaf071" transform="translate(493,883.9)"><circle r="1.4"/><text x="4.5" y="3.7">KC118309.1 2013</text></g>
<g id="leaf072" transform="translate(493,895.1)"><circle r="1.4"/><text x="4.5" y="3.7">KC118301.1 2013</text></g>
<g id="leaf073" transform="translate(493,906.2)"><circle r="1.4"/><text x="4.5" y="3.7">KC118303.1 2013</text></g>
<g id="leaf074" transform="translate(493,917.4)"><circle r="1.4"/><text x="4.5" y="3.7">KC118298 2013</text></g>
<g id="leaf075" transform="translate(493,928.6)"><circle r="1.4"/><text x="4.5" y="3.7">KC118300 2013</text></g>
<g id="leaf076" transform="translate(493,939.7)"><circle r="1.4"/><text x="4.5" y="3.7">KC118306 2013</text></g>
<g id="leaf077" transform="translate(493,950.9)"><circle r="1.4"/><text x="4.5" y="3.7">KC118294.1 2013</text></g>
<g id="leaf078" transform="translate(493,962)"><circle r="1.4"/><text x="4.5" y="3.7">KC118295.1 2013</text></g>
<g id="leaf079" transform="translate(493,973.2)"><circle r="1.4"/><text x="4.5" y="3.7">KC118305.1 2013</text></g>
<g id="leaf080" transform="translate(493,984.4)"><circle r="1.4"/><text x="4.5" y="3.7">KF218585 2014</text></g>
<g id="leaf081" transform="translate(493,995.5)"><circle r="1.4"/><text x="4.5" y="3.7">KC118332 2013</text></g>
<g id="leaf082" transform="translate(493,1006.7)"><circle r="1.4"/><text x="4.5" y="3.7">Y11604  4a</text></g>
<g id="leaf083" transform="translate(493,1017.8)"><circle r="1.4"/><text x="4.5" y="3.7">KC118333 2013</text></g>
<g id="leaf084" transform="translate(493,1029)"><circle r="1.4"/><text x="4.5" y="3.7">KC118250 2013</text></g>
<g id="leaf085" transform="translate(493,1040.2)"><circle r="1.4"/><text x="4.5" y="3.7">KC118329.1 2013</text></g>
<g id="leaf086" transform="translate(493,1051.3)"><circle r="1.4"/><text x="4.5" y="3.7">KC118313.1 2013</text></g>
<g id="leaf087" transform="translate(493,1062.5)"><circle r="1.4"/><text x="4.5" y="3.7">KC118312 2013</text></g>
<g id="leaf088" transform="translate(493,1073.6)"><circle r="1.4"/><text x="4.5" y="3.7">KC118324.1 2013</text></g>
<g id="leaf089" transform="translate(493,1084.8)"><circle r="1.4"/><text x="4.5" y="3.7">KC118321.1 2013</text></g>
<g id="leaf090" transform="translate(493,1096)"><circle r="1.4"/><text x="4.5" y="3.7">KC118317.1 2013</text></g>
<g id="leaf091" transform="translate(493,1107.1)"><circle r="1.4"/><text x="4.5" y="3.7">KC118314.1 2013</text></g>
<g id="leaf092" transform="translate(493,1118.3)"><circle r="1.4"/><text x="4.5" y="3.7">KC118326.1 2013</text></g>
<g id="leaf093" transform="translate(493,1129.4)"><circle r="1.4"/><text x="4.5" y="3.7">KC118316 2013</text></g>
<g id="leaf094" transform="translate(493,1140.6)"><circle r="1.4"/><text x="4.5" y="3.7">KC118311.1 2013</text></g>
<g id="leaf095" transform="translate(493,1151.8)"><circle r="1.4"/><text x="4.5" y="3.7">KC118330 2013</text></g>
<g id="leaf096" transform="translate(493,1162.9)"><circle r="1.4"/><text x="4.5" y="3.7">KC118327 2013</text></g>
<g id="leaf097" transform="translate(493,1174.1)"><circle r="1.4"/><text x="4.5" y="3.7">KC118331 2013</text></g>
<g id="leaf098" transform="translate(493,1185.2)"><circle r="1.4"/><text x="4.5" y="3.7">KC118315 2013</text></g>
<g id="leaf099" transform="translate(493,1196.4)"><circle r="1.4"/><text x="4.5" y="3.7">KC118319 2013</text></g>
<g id="leaf100" transform="translate(493,1207.6)"><circle r="1.4"/><text x="4.5" y="3.7">KC118322 2013</text></g>
<g id="leaf101" transform="translate(493,1218.7)"><circle r="1.4"/><text x="4.5" y="3.7">D17763 3a</text></g>
<g id="leaf102" transform="translate(493,1229.9)"><circle r="1.4"/><text x="4.5" y="3.7">KC118328 2013</text></g>
<g id="leaf103" transform="translate(493,1241)"><circle r="1.4"/><text x="4.5" y="3.7">KC118325 2013</text></g>
<g id="leaf104" transform="translate(493,1252.2)"><circle r="1.4"/><text x="4.5" y="3.7">KC118318 2013</text></g>
<g id="leaf105" transform="translate(493,1263.4)"><circle r="1.4"/><text x="4.5" y="3.7">KC285361 2014</text></g>
<g id="leaf106" transform="translate(493,1274.5)"><circle r="1.4"/><text x="4.5" y="3.7">KC285359 2014</text></g>
<g id="leaf107" transform="translate(493,1285.7)"><circle r="1.4"/><text x="4.5" y="3.7">KC285358 2014</text></g>
<g id="leaf108" transform="translate(493,1296.8)"><circle r="1.4"/><text x="4.5" y="3.7">KC285360 2014</text></g>
<g id="leaf109" transform="translate(493,1308)"><circle r="1.4"/><text x="4.5" y="3.7">KC285362 2014</text></g>
<g id="leaf110" transform="translate(493,1319.2)"><circle r="1.4"/><text x="4.5" y="3.7">KC285357 2014</text></g>
<g id="leaf111" transform="translate(493,1330.3)"><circle r="1.4"/><text x="4.5" y="3.7">KC118323 2013</text></g>
<g id="leaf112" transform="translate(493,1341.5)"><circle r="1.4"/><text x="4.5" y="3.7">D14853 1c</text></g>
<g id="leaf113" transform="translate(493,1352.6)"><circle r="1.4"/><text x="4.5" y="3.7">D90208 1b</text></g>
<g id="leaf114" transform="translate(493,1363.8)"><circle r="1.4"/><text x="4.5" y="3.7">Y13184 5a</text></g>
<g id="leaf115" transform="translate(493,1375)"><circle r="1.4"/><text x="4.5" y="3.7">D10988  2b</text></g>
<g id="leaf116" transform="translate(493,1386.1)"><circle r="1.4"/><text x="4.5" y="3.7">AF238485 2a</text></g>
<g id="leaf117" transform="translate(493,1397.3)"><circle r="1.4"/><text x="4.5" y="3.7">Y12083 6a</text></g>
<g id="leaf118" transform="translate(493,1408.4)"><circle r="1.4"/><text x="4.5" y="3.7">JQ341409 2014</text></g>
<g id="leaf119" transform="translate(493,1419.6)"><circle r="1.4"/><text x="4.5" y="3.7">M62321 1a</text></g>
<g id="leaf120" transform="translate(493,1430.8)"><circle r="1.4"/><text x="4.5" y="3.7">DQ065829 2006</text></g>
<g id="leaf121" transform="translate(493,1441.9)"><circle r="1.4"/><text x="4.5" y="3.7">DQ065836 2006</text></g>
<g id="leaf122" transform="translate(493,1453.1)"><circle r="1.4"/><text x="4.5" y="3.7">DQ065823 2006</text></g>
<g id="leaf123" transform="translate(493,1464.2)"><circle r="1.4"/><text x="4.5" y="3.7">DQ065824 2006</text></g>
<g id="leaf124" transform="translate(493,1475.4)"><circle r="1.4"/><text x="4.5" y="3.7">DQ065826 2006</text></g>
<g id="leaf125" transform="translate(493,1486.6)"><circle r="1.4"/><text x="4.5" y="3.7">DQ065827 2006</text></g>
<g id="leaf126" transform="translate(493,1497.7)"><circle r="1.4"/><text x="4.5" y="3.7">DQ065831  2006</text></g>
<g id="leaf127" transform="translate(493,1508.9)"><circle r="1.4"/><text x="4.5" y="3.7">DQ065828 2006</text></g>
<g id="leaf128" transform="translate(493,1520)"><circle r="1.4"/><text x="4.5" y="3.7">DQ065832 2006</text></g>
<g id="leaf129" transform="translate(493,1531.2)"><circle r="1.4"/><text x="4.5" y="3.7">DQ065825 2006</text></g>
<g id="leaf130" transform="translate(493,1542.4)"><circle r="1.4"/><text x="4.5" y="3.7">DQ065821 2006</text></g>
<g id="leaf131" transform="translate(493,1553.5)"><circle r="1.4"/><text x="4.5" y="3.7">DQ065833 2006</text></g>
<g id="leaf132" transform="translate(493,1564.7)"><circle r="1.4"/><text x="4.5" y="3.7">DQ065822 2006</text></g>
<g id="leaf133" transform="translate(493,1575.8)"><circle r="1.4"/><text x="4.5" y="3.7">DQ065835 2006</text></g>
<g id="leaf134" transform="translate(493,1587)"><circle r="1.4"/><text x="4.5" y="3.7">DQ065834 2006</text></g>
<g id="leaf135" transform="translate(493,1598.2)"><circle r="1.4"/><text x="4.5" y="3.7">DQ202323 2006</text></g>
<g id="leaf136" transform="translate(493,1609.3)"><circle r="1.4"/><text x="4.5" y="3.7">DQ065830.1 2006</text></g>
</g>
</svg>
